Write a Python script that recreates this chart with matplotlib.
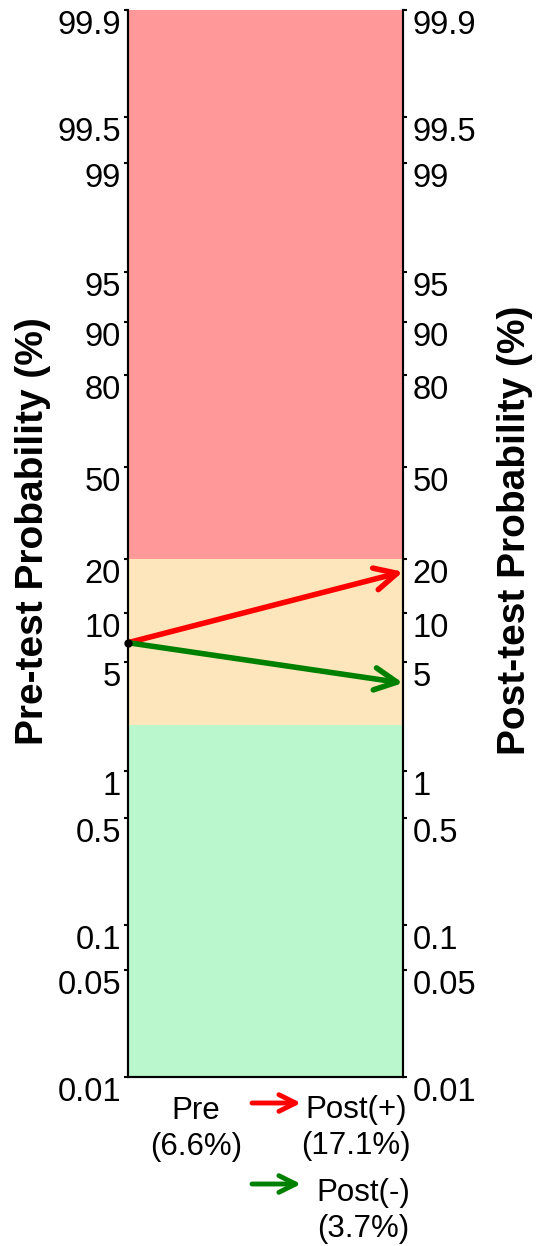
import matplotlib
matplotlib.use('Agg')
import matplotlib.pyplot as plt
from matplotlib.ticker import NullLocator

plt.rcParams['font.family'] = ['Liberation Sans', 'DejaVu Sans']

# tick values (%) and their labels
tick_pct = [0.01, 0.05, 0.1, 0.5, 1, 5, 10, 20, 50, 80, 90, 95, 99, 99.5, 99.9]
tick_lbl = ['0.01', '0.05', '0.1', '0.5', '1', '5', '10', '20', '50',
            '80', '90', '95', '99', '99.5', '99.9']

# risk zones (%): low / intermediate / high
zone_edges = [0.01, 2, 20, 99.9]
zone_colors = ['#bbf7cc', '#fde6bc', '#ff9999']

pre = 6.6
post_pos = 17.1
post_neg = 3.7

fig = plt.figure(figsize=(5.37, 12.46), dpi=100)
ax = fig.add_axes([0.2384, 0.1356, 0.5121, 0.8564])

ax.set_yscale('logit')
ax.set_ylim(0.0001, 0.999)
ax.set_xlim(0, 1)

for lo, hi, c in zip(zone_edges[:-1], zone_edges[1:], zone_colors):
    ax.axhspan(lo / 100, hi / 100, color=c, lw=0, zorder=0)

arrow = '->,head_length=0.4,head_width=0.2'
ax.annotate('', xy=(1, post_pos / 100), xytext=(0, pre / 100),
            arrowprops=dict(arrowstyle=arrow, color='red', lw=4,
                            mutation_scale=40, shrinkA=0, shrinkB=0),
            annotation_clip=False, zorder=3)
ax.annotate('', xy=(1, post_neg / 100), xytext=(0, pre / 100),
            arrowprops=dict(arrowstyle=arrow, color='green', lw=4,
                            mutation_scale=40, shrinkA=0, shrinkB=0),
            annotation_clip=False, zorder=3)
ax.plot([0], [pre / 100], 'o', color='black', ms=5, clip_on=False, zorder=4)

ax2 = ax.twinx()
ax2.set_yscale('logit')
ax2.set_ylim(0.0001, 0.999)

for a in (ax, ax2):
    a.set_yticks([v / 100 for v in tick_pct])
    a.set_yticklabels(tick_lbl, fontsize=23.5)
    a.yaxis.set_minor_locator(NullLocator())
    a.tick_params(axis='y', direction='out', length=3, width=1.5, pad=2)
    for t in a.get_yticklabels():
        t.set_va('top')
    a.spines['top'].set_visible(False)
    for s in ('left', 'right', 'bottom'):
        a.spines[s].set_linewidth(1.5)
ax2.tick_params(axis='y', pad=4)
ax.set_xticks([])

fig.text(0.061, 0.574, 'Pre-test Probability (%)', rotation=90, fontsize=28,
         fontweight='bold', ha='center', va='center')
fig.text(0.959, 0.574, 'Post-test Probability (%)', rotation=90, fontsize=28,
         fontweight='bold', ha='center', va='center')

# bottom captions
fig.text(196 / 537, 1 - 1129 / 1246, 'Pre\n(6.6%)', fontsize=22.5,
         ha='center', va='center', linespacing=1.25)
fig.text(356 / 537, 1 - 1128 / 1246, 'Post(+)\n(17.1%)', fontsize=22.5,
         ha='center', va='center', linespacing=1.25)
fig.text(363 / 537, 1 - 1211 / 1246, 'Post(-)\n(3.7%)', fontsize=22.5,
         ha='center', va='center', linespacing=1.25)

small = '->,head_length=0.4,head_width=0.2'
for y, c in ((1103, 'red'), (1184, 'green')):
    fig.add_artist(matplotlib.patches.FancyArrowPatch(
        (252 / 537, 1 - y / 1246), (301 / 537, 1 - y / 1246),
        transform=fig.transFigure, arrowstyle=small, color=c, lw=3.5,
        mutation_scale=30, shrinkA=0, shrinkB=0))

fig.savefig('out.png', dpi=100)
